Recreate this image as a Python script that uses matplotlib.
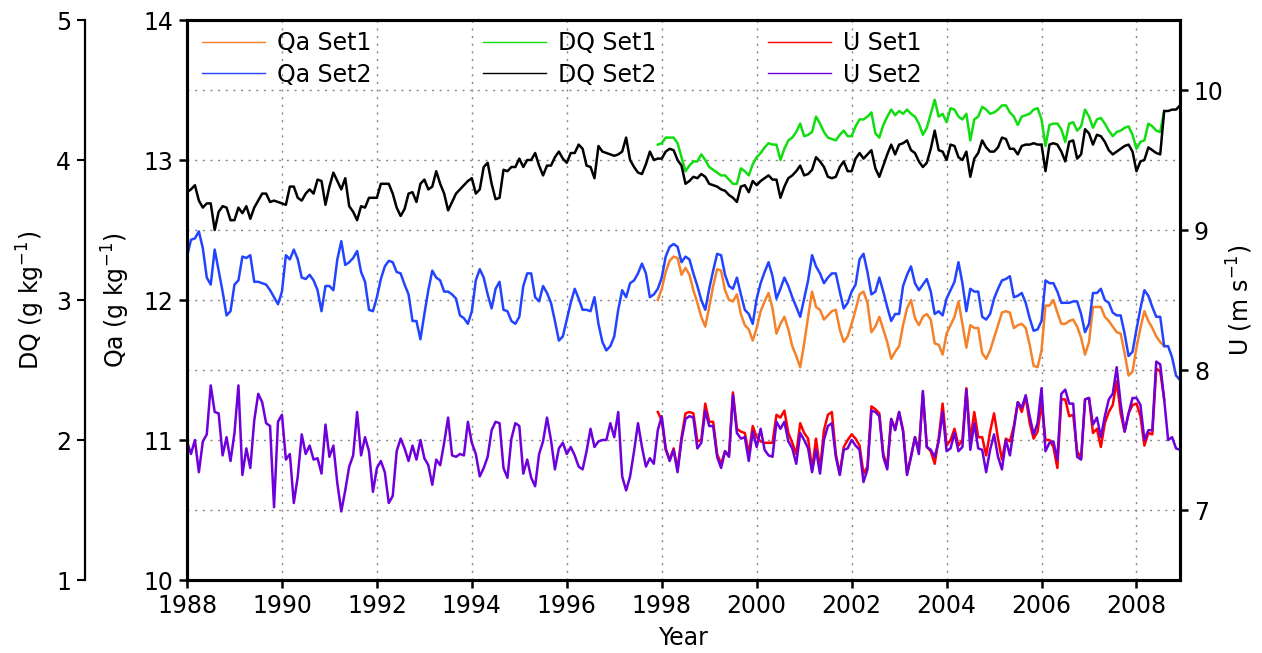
import numpy as np
import matplotlib
matplotlib.use("Agg")
import matplotlib.pyplot as plt

# monthly series, Jan 1988 .. Dec 2008 (one row = one year)
dq_set2 = [
    3.77, 3.79, 3.82, 3.71, 3.66, 3.69, 3.69, 3.50, 3.63, 3.67, 3.66, 3.57,
    3.57, 3.66, 3.62, 3.67, 3.58, 3.66, 3.71, 3.76, 3.76, 3.70, 3.71, 3.70,
    3.69, 3.68, 3.81, 3.81, 3.73, 3.71, 3.76, 3.79, 3.76, 3.86, 3.85, 3.68,
    3.81, 3.91, 3.85, 3.79, 3.87, 3.67, 3.63, 3.57, 3.67, 3.66, 3.73, 3.73,
    3.73, 3.83, 3.83, 3.83, 3.76, 3.66, 3.60, 3.65, 3.76, 3.77, 3.70, 3.83,
    3.86, 3.79, 3.81, 3.92, 3.83, 3.76, 3.64, 3.70, 3.76, 3.79, 3.82, 3.85,
    3.87, 3.76, 3.79, 3.95, 3.98, 3.83, 3.72, 3.73, 3.93, 3.92, 3.95, 3.95,
    4.01, 3.95, 4.00, 4.00, 4.05, 3.96, 3.89, 3.96, 3.96, 4.02, 4.06, 4.01,
    3.98, 4.05, 4.05, 4.11, 4.08, 3.96, 3.95, 3.87, 4.10, 4.06, 4.05, 4.04,
    4.03, 4.04, 4.06, 4.16, 4.00, 3.95, 3.91, 3.90, 3.97, 4.06, 4.00, 4.01,
    4.01, 4.06, 4.08, 4.07, 4.00, 3.96, 3.83, 3.85, 3.88, 3.87, 3.90, 3.88,
    3.83, 3.82, 3.81, 3.79, 3.78, 3.75, 3.73, 3.70, 3.81, 3.82, 3.77, 3.85,
    3.82, 3.85, 3.87, 3.89, 3.86, 3.86, 3.73, 3.81, 3.87, 3.89, 3.92, 3.96,
    3.89, 3.90, 3.93, 4.02, 3.99, 3.95, 3.88, 3.87, 3.88, 3.95, 3.99, 3.92,
    3.92, 4.01, 4.05, 4.01, 4.04, 4.07, 3.94, 3.88, 3.96, 4.04, 4.11, 4.04,
    4.11, 4.12, 4.14, 4.07, 4.05, 3.99, 3.95, 3.98, 4.08, 4.21, 4.07, 4.06,
    4.00, 4.11, 4.10, 4.02, 4.00, 4.06, 3.88, 4.01, 4.05, 4.14, 4.09, 4.06,
    4.06, 4.09, 4.16, 4.15, 4.08, 4.08, 4.04, 4.10, 4.11, 4.11, 4.12, 4.11,
    4.11, 3.92, 4.11, 4.12, 4.11, 4.06, 3.99, 4.13, 4.14, 4.01, 4.04, 4.22,
    4.19, 4.11, 4.18, 4.17, 4.13, 4.07, 4.04, 4.06, 4.08, 4.10, 4.11, 4.06,
    3.92, 3.99, 4.00, 4.09, 4.07, 4.05, 4.04, 4.35, 4.35, 4.36, 4.36, 4.39,
]

qa_set2 = [
    12.31, 12.43, 12.44, 12.49, 12.37, 12.16, 12.11, 12.36, 12.21, 12.06, 11.89, 11.92,
    12.11, 12.14, 12.31, 12.30, 12.32, 12.13, 12.13, 12.12, 12.11, 12.07, 12.02, 11.97,
    12.06, 12.32, 12.29, 12.36, 12.29, 12.16, 12.15, 12.18, 12.14, 12.07, 11.92, 12.10,
    12.10, 12.07, 12.29, 12.42, 12.25, 12.27, 12.30, 12.35, 12.20, 12.13, 11.93, 11.92,
    12.02, 12.15, 12.24, 12.28, 12.27, 12.20, 12.19, 12.11, 12.04, 11.85, 11.85, 11.72,
    11.90, 12.07, 12.21, 12.16, 12.14, 12.06, 12.06, 12.04, 12.01, 11.89, 11.87, 11.83,
    11.92, 12.14, 12.22, 12.16, 12.04, 11.94, 12.08, 12.13, 11.93, 11.92, 11.85, 11.83,
    11.88, 12.10, 12.19, 12.19, 12.02, 11.99, 12.10, 12.05, 11.98, 11.85, 11.71, 11.74,
    11.86, 11.98, 12.08, 12.01, 11.93, 11.93, 11.92, 12.02, 11.83, 11.70, 11.64, 11.67,
    11.74, 11.93, 12.07, 12.02, 12.12, 12.14, 12.19, 12.26, 12.19, 12.02, 12.04, 12.08,
    12.16, 12.31, 12.38, 12.40, 12.38, 12.27, 12.31, 12.29, 12.19, 12.10, 12.00, 11.93,
    12.08, 12.21, 12.33, 12.32, 12.18, 12.10, 12.08, 12.16, 12.04, 11.93, 11.90, 11.83,
    12.01, 12.12, 12.20, 12.27, 12.17, 12.01, 12.08, 12.16, 12.10, 12.02, 11.95, 11.88,
    12.01, 12.14, 12.32, 12.24, 12.19, 12.12, 12.16, 12.19, 12.19, 12.06, 11.94, 11.98,
    12.06, 12.11, 12.29, 12.33, 12.20, 12.04, 12.06, 12.16, 12.06, 11.95, 11.85, 11.90,
    11.90, 12.10, 12.18, 12.24, 12.12, 12.07, 12.11, 12.15, 12.06, 11.90, 11.92, 11.89,
    12.01, 12.07, 12.13, 12.27, 12.12, 11.92, 12.08, 12.06, 12.06, 11.88, 11.86, 11.90,
    12.01, 12.08, 12.14, 12.15, 12.17, 12.02, 12.03, 12.05, 11.98, 11.87, 11.78, 11.79,
    11.85, 12.14, 12.12, 12.12, 12.06, 11.98, 11.98, 11.98, 11.99, 11.99, 11.90, 11.77,
    11.83, 12.05, 12.05, 12.08, 12.00, 11.98, 11.91, 11.89, 11.89, 11.76, 11.60, 11.63,
    11.79, 11.94, 12.07, 12.03, 11.95, 11.88, 11.88, 11.67, 11.67, 11.59, 11.46, 11.43,
]

u_set2 = [
    7.49, 7.40, 7.50, 7.27, 7.49, 7.54, 7.89, 7.70, 7.69, 7.39, 7.52, 7.35,
    7.55, 7.89, 7.25, 7.44, 7.30, 7.64, 7.83, 7.77, 7.62, 7.60, 7.02, 7.63,
    7.68, 7.36, 7.40, 7.05, 7.24, 7.54, 7.40, 7.46, 7.36, 7.37, 7.26, 7.61,
    7.38, 7.46, 7.19, 6.99, 7.14, 7.31, 7.39, 7.70, 7.39, 7.52, 7.42, 7.13,
    7.30, 7.35, 7.27, 7.05, 7.10, 7.42, 7.51, 7.44, 7.35, 7.46, 7.36, 7.50,
    7.37, 7.32, 7.18, 7.36, 7.32, 7.48, 7.66, 7.39, 7.38, 7.40, 7.39, 7.63,
    7.48, 7.40, 7.24, 7.30, 7.38, 7.57, 7.63, 7.62, 7.30, 7.23, 7.51, 7.62,
    7.60, 7.26, 7.36, 7.23, 7.17, 7.40, 7.49, 7.66, 7.50, 7.29, 7.44, 7.48,
    7.40, 7.45, 7.39, 7.31, 7.29, 7.42, 7.58, 7.45, 7.49, 7.50, 7.50, 7.62,
    7.52, 7.70, 7.24, 7.14, 7.24, 7.42, 7.62, 7.45, 7.31, 7.37, 7.33, 7.57,
    7.67, 7.44, 7.35, 7.43, 7.27, 7.50, 7.65, 7.67, 7.66, 7.44, 7.48, 7.71,
    7.60, 7.60, 7.38, 7.30, 7.42, 7.38, 7.82, 7.55, 7.51, 7.52, 7.35, 7.56,
    7.45, 7.58, 7.43, 7.39, 7.38, 7.63, 7.58, 7.63, 7.49, 7.44, 7.33, 7.55,
    7.50, 7.44, 7.27, 7.43, 7.26, 7.50, 7.60, 7.62, 7.38, 7.25, 7.43, 7.44,
    7.50, 7.46, 7.43, 7.20, 7.29, 7.71, 7.70, 7.67, 7.38, 7.29, 7.65, 7.57,
    7.70, 7.56, 7.25, 7.38, 7.52, 7.40, 7.85, 7.45, 7.43, 7.38, 7.49, 7.70,
    7.42, 7.44, 7.55, 7.42, 7.45, 7.86, 7.43, 7.62, 7.44, 7.43, 7.27, 7.43,
    7.54, 7.38, 7.29, 7.50, 7.39, 7.58, 7.77, 7.73, 7.82, 7.67, 7.54, 7.62,
    7.87, 7.42, 7.48, 7.49, 7.36, 7.83, 7.86, 7.76, 7.76, 7.38, 7.36, 7.79,
    7.80, 7.61, 7.66, 7.52, 7.67, 7.79, 7.83, 8.02, 7.76, 7.56, 7.69, 7.80,
    7.80, 7.75, 7.50, 7.57, 7.57, 8.06, 8.04, 7.79, 7.50, 7.52, 7.44, 7.43,
]

# Set1 only differs from Dec 1997 to Aug 2008
set1_start = 119
dq_set1 = [
    4.11, 4.12, 4.16, 4.16, 4.16, 4.12, 4.02, 3.92, 3.96, 3.99, 3.99, 4.04,
    4.00, 3.95, 3.93, 3.91, 3.89, 3.89, 3.86, 3.83, 3.83, 3.94, 3.92, 3.89,
    3.97, 4.02, 4.05, 4.09, 4.12, 4.11, 4.11, 4.00, 4.08, 4.14, 4.16, 4.20,
    4.26, 4.17, 4.18, 4.20, 4.31, 4.26, 4.20, 4.16, 4.15, 4.14, 4.18, 4.21,
    4.17, 4.17, 4.24, 4.29, 4.29, 4.31, 4.34, 4.19, 4.16, 4.25, 4.31, 4.36,
    4.32, 4.35, 4.33, 4.36, 4.33, 4.31, 4.26, 4.18, 4.23, 4.33, 4.43, 4.31,
    4.33, 4.27, 4.37, 4.36, 4.31, 4.29, 4.33, 4.14, 4.29, 4.31, 4.38, 4.36,
    4.33, 4.34, 4.36, 4.39, 4.39, 4.34, 4.31, 4.25, 4.31, 4.32, 4.33, 4.36,
    4.37, 4.29, 4.10, 4.25, 4.26, 4.26, 4.22, 4.13, 4.26, 4.27, 4.21, 4.24,
    4.36, 4.31, 4.23, 4.29, 4.30, 4.26, 4.21, 4.17, 4.20, 4.21, 4.23, 4.24,
    4.18, 4.08, 4.13, 4.14, 4.26, 4.24, 4.21, 4.20, 4.35,
]
qa_set1 = [
    12.00,
    12.08, 12.20, 12.28, 12.31, 12.30, 12.18, 12.23, 12.18, 12.07, 11.98, 11.88, 11.81,
    11.95, 12.10, 12.22, 12.21, 12.07, 12.00, 11.99, 12.04, 11.90, 11.82, 11.79, 11.71,
    11.80, 11.92, 11.99, 12.05, 11.94, 11.76, 11.83, 11.88, 11.79, 11.67, 11.60, 11.52,
    11.69, 11.88, 12.06, 11.95, 11.93, 11.86, 11.89, 11.92, 11.93, 11.79, 11.70, 11.74,
    11.83, 11.93, 12.04, 12.06, 11.98, 11.77, 11.81, 11.88, 11.79, 11.70, 11.58, 11.63,
    11.67, 11.82, 11.94, 12.00, 11.87, 11.82, 11.88, 11.90, 11.86, 11.69, 11.68, 11.61,
    11.76, 11.82, 11.88, 11.99, 11.83, 11.66, 11.82, 11.80, 11.80, 11.62, 11.58, 11.64,
    11.73, 11.82, 11.91, 11.92, 11.91, 11.80, 11.82, 11.83, 11.80, 11.68, 11.53, 11.52,
    11.64, 11.96, 11.96, 12.00, 11.91, 11.83, 11.83, 11.85, 11.86, 11.81, 11.73, 11.61,
    11.70, 11.95, 11.95, 11.95, 11.88, 11.85, 11.81, 11.77, 11.76, 11.62, 11.46, 11.49,
    11.66, 11.80, 11.92, 11.85, 11.80, 11.74, 11.70, 11.67,
]
u_set1 = [
    7.70,
    7.64, 7.43, 7.36, 7.44, 7.29, 7.52, 7.69, 7.70, 7.69, 7.49, 7.50, 7.76,
    7.63, 7.63, 7.40, 7.33, 7.42, 7.39, 7.84, 7.58, 7.56, 7.55, 7.40, 7.60,
    7.52, 7.49, 7.48, 7.48, 7.48, 7.68, 7.66, 7.71, 7.55, 7.48, 7.40, 7.62,
    7.55, 7.51, 7.29, 7.51, 7.29, 7.57, 7.68, 7.70, 7.40, 7.26, 7.45, 7.50,
    7.54, 7.51, 7.46, 7.26, 7.31, 7.74, 7.72, 7.69, 7.40, 7.31, 7.65, 7.58,
    7.70, 7.57, 7.26, 7.38, 7.52, 7.43, 7.83, 7.45, 7.42, 7.33, 7.51, 7.76,
    7.46, 7.50, 7.58, 7.46, 7.50, 7.87, 7.50, 7.70, 7.52, 7.52, 7.39, 7.56,
    7.69, 7.51, 7.36, 7.51, 7.49, 7.60, 7.77, 7.70, 7.81, 7.62, 7.51, 7.56,
    7.76, 7.50, 7.50, 7.45, 7.30, 7.79, 7.79, 7.67, 7.68, 7.42, 7.37, 7.79,
    7.80, 7.55, 7.58, 7.45, 7.62, 7.70, 7.75, 7.92, 7.69, 7.56, 7.69, 7.75,
    7.76, 7.67, 7.46, 7.55, 7.54, 8.01, 7.99, 7.79,
]

years = 1988 + np.arange(len(qa_set2)) / 12.0
years1 = years[set1_start:set1_start + len(qa_set1)]
xticks = list(range(1988, 2009, 2))

c_orange = "#F5822A"
c_blue = "#2244FF"
c_green = "#11DD11"
c_red = "#FF0000"
c_purple = "#6E00DC"

plt.rcParams["font.family"] = ["DejaVu Sans"]
lw = 1.8
fs = 17

fig = plt.figure(figsize=(12.62, 6.53), dpi=100)
ax = fig.add_axes([187 / 1262, 73 / 653, 993 / 1262, 560 / 653])
ax_u = ax.twinx()
ax_dq = ax.twinx()

grid_kw = dict(color="#888888", linewidth=1.0, linestyle=(0, (1.5, 4)))

# Qa on the main axis
l_qa1, = ax.plot(years1, qa_set1, color=c_orange, lw=lw, label="Qa Set1")
l_qa2, = ax.plot(years, qa_set2, color=c_blue, lw=lw, label="Qa Set2")
ax.set_xlim(years[0], years[-1])
ax.set_ylim(10, 14)
ax.set_xticks(xticks)
ax.set_yticks([10, 11, 12, 13, 14])
ax.grid(True, **grid_kw)
ax.set_xlabel("Year", fontsize=fs)
ax.set_ylabel(r"Qa (g kg$^{-1}$)", fontsize=fs)
ax.xaxis.set_label_coords(0.5, -0.082)
ax.yaxis.set_label_coords(-0.055, 0.5)

# U on the right
l_u1, = ax_u.plot(years1, u_set1, color=c_red, lw=lw, label="U Set1")
l_u2, = ax_u.plot(years, u_set2, color=c_purple, lw=lw, label="U Set2")
ax_u.set_ylim(6.5, 10.5)
ax_u.set_yticks([7, 8, 9, 10])
ax_u.grid(True, axis="y", **grid_kw)
ax_u.set_ylabel(r"U (m s$^{-1}$)", fontsize=fs)
ax_u.yaxis.set_label_coords(1.045, 0.5)

# DQ on a detached left axis
l_dq1, = ax_dq.plot(years1, dq_set1, color=c_green, lw=lw, label="DQ Set1")
l_dq2, = ax_dq.plot(years, dq_set2, color="black", lw=lw, label="DQ Set2")
ax_dq.set_ylim(1, 5)
ax_dq.set_yticks([1, 2, 3, 4, 5])
ax_dq.spines["left"].set_position(("axes", -102 / 993))
ax_dq.yaxis.set_ticks_position("left")
ax_dq.yaxis.set_label_position("left")
for s in ["top", "right", "bottom"]:
    ax_dq.spines[s].set_visible(False)
ax_dq.set_ylabel(r"DQ (g kg$^{-1}$)", fontsize=fs)
ax_dq.yaxis.set_label_coords(-0.141, 0.5)

for a in (ax, ax_u):
    a.tick_params(direction="out", length=6, width=1.8, labelsize=fs, pad=4)
    for s in a.spines.values():
        s.set_linewidth(2.2)
ax_dq.tick_params(direction="out", length=6, width=1.5, labelsize=fs, pad=4)
ax_dq.spines["left"].set_linewidth(1.6)

handles = [l_qa1, l_qa2, l_dq1, l_dq2, l_u1, l_u2]
leg = ax_dq.legend(handles=handles, ncol=3, loc="upper left",
                   bbox_to_anchor=(0.0, 1.007), frameon=False, fontsize=fs,
                   handlelength=2.65, handletextpad=0.5, columnspacing=4.75,
                   labelspacing=0.3, borderpad=0.15)
for h in leg.get_lines():
    h.set_linewidth(1.0)

fig.savefig("out.png", dpi=100)
